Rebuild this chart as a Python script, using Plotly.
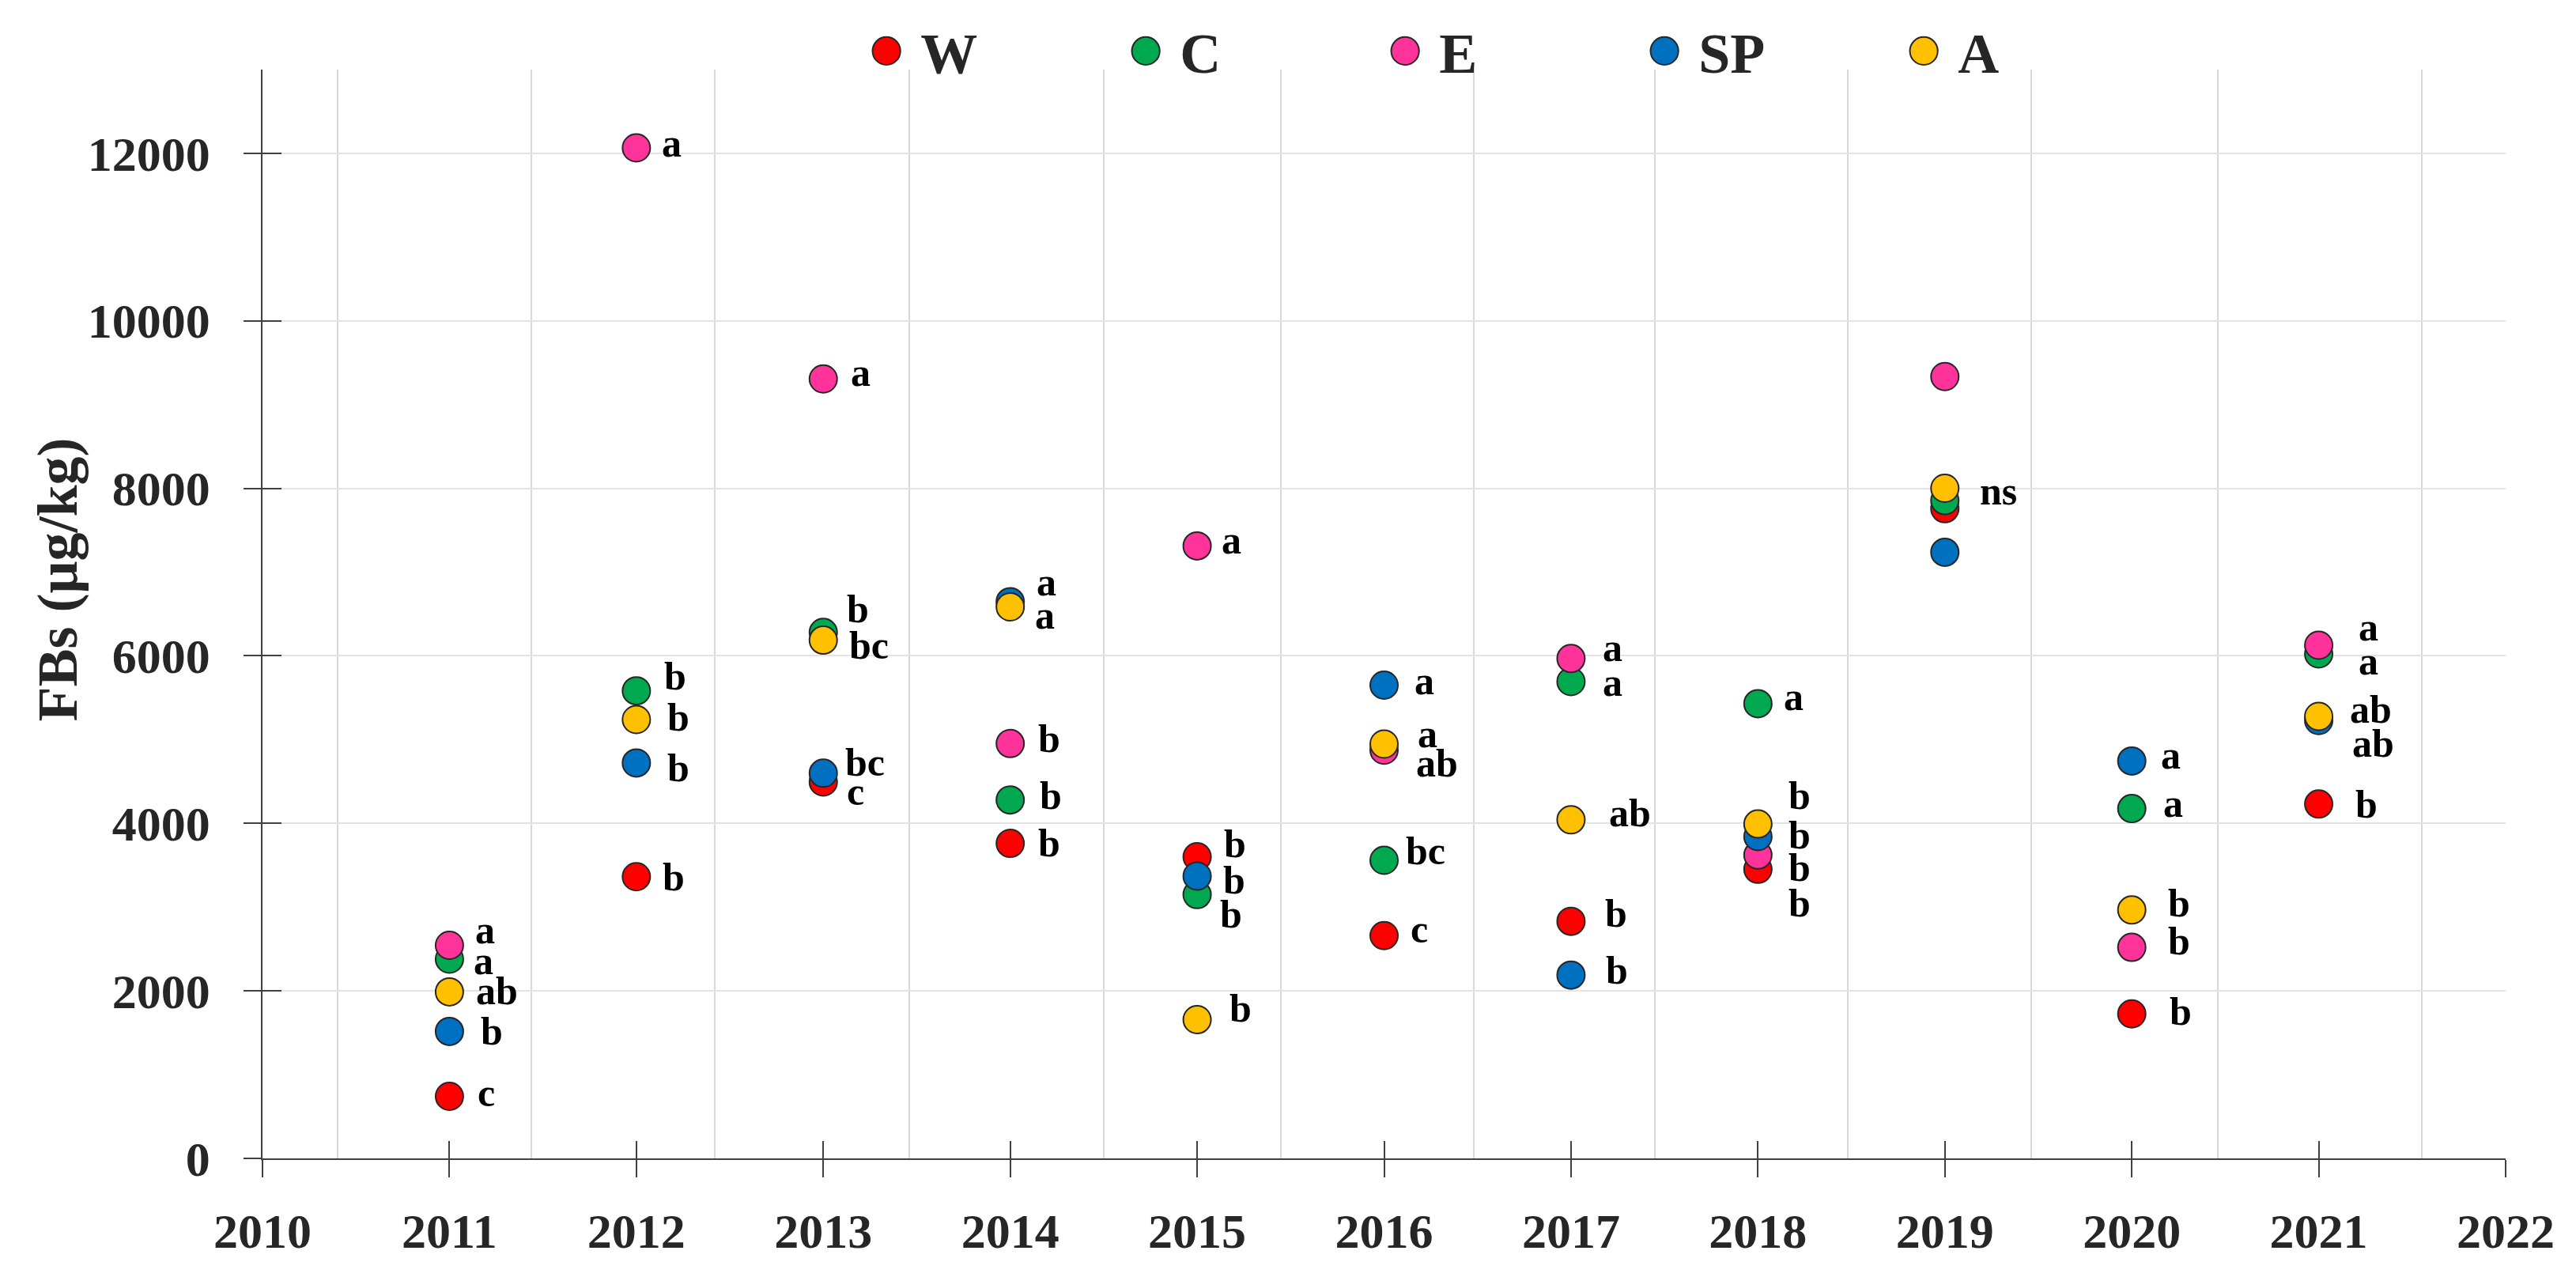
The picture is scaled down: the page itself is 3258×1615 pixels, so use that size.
import plotly.graph_objects as go

# ---------------- data ----------------
years = [2011, 2012, 2013, 2014, 2015, 2016, 2017, 2018, 2019, 2020, 2021]
series_names = ["W", "C", "E", "SP", "A"]
W = [741, 3363, 4495, 3761, 3602, 2660, 2831, 3452, 7757, 1725, 4231]
C = [2379, 5583, 6280, 4280, 3150, 3559, 5693, 5429, 7854, 4177, 6023]
E = [2544, 12065, 9306, 4953, 7313, 4874, 5968, 3622, 9335, 2520, 6127]
SP = [1516, 4721, 4599, 6647, 3370, 5650, 2189, 3842, 7237, 4745, 5228]
A = [1988, 5240, 6188, 6585, 1657, 4947, 4042, 3993, 8001, 2966, 5277]

W_lab = ["c", "b", "c", "b", "b", "c", "b", "b", "", "b", "b"]
C_lab = ["a", "b", "b", "b", "b", "bc", "a", "a", "", "a", "a"]
E_lab = ["a", "a", "a", "b", "a", "ab", "a", "b", "", "b", "a"]
SP_lab = ["b", "b", "bc", "a", "b", "a", "b", "b", "", "a", "ab"]
A_lab = ["ab", "b", "bc", "a", "b", "a", "ab", "b", "ns", "b", "ab"]

x_ticks = list(range(2010, 2023))
y_ticks = [0, 2000, 4000, 6000, 8000, 10000, 12000]
y_title = "FBs (μg/kg)"

# ---------------- style ----------------
colors = {"W": "#FF0000", "C": "#00A84F", "E": "#FF3399", "SP": "#0070C0", "A": "#FFC000"}
# label offsets in px (dx to the left edge of text, dy downwards)
W_off = [(34, -5), (31, 0), (28, 12), (33, -1), (32, -16), (31, -8), (41, -10), (37, 43), None, (46, -3), (44, 0)]
C_off = [(29, 2), (33, -19), (28, -30), (35, -6), (27, 25), (25, -12), (38, 1), (31, -9), None, (38, -7), (48, 9)]
E_off = [(31, -20), (30, -6), (33, -8), (33, -6), (29, -7), (38, 16), (38, -14), (37, 16), None, (44, -8), (48, -23)]
SP_off = [(38, 0), (37, 6), (26, -14), (31, -25), (31, 5), (36, -6), (42, -6), (37, -2), None, (35, -7), (40, 29)]
A_off = [(32, -1), (37, -3), (31, 6), (29, 10), (39, -14), (40, -13), (46, -9), (37, -36), (42, 3), (44, -9), (37, -9)]
# vertical gridline positions (layout)
grid_x = [2010.40, 2011.44, 2012.42, 2013.46, 2014.50, 2015.45, 2016.48, 2017.45, 2018.48, 2019.46, 2020.46, 2021.55]

FONT = "Liberation Serif"
TXT = "#262626"
AXC = "#404040"

values = {"W": W, "C": C, "E": E, "SP": SP, "A": A}
labels = {"W": W_lab, "C": C_lab, "E": E_lab, "SP": SP_lab, "A": A_lab}
offsets = {"W": W_off, "C": C_off, "E": E_off, "SP": SP_off, "A": A_off}

fig = go.Figure()
for name in series_names:
    fig.add_trace(go.Scatter(
        x=years, y=values[name], mode="markers", name=name,
        marker=dict(size=35, color=colors[name], line=dict(color="#262626", width=2)),
        hoverinfo="x+y+name",
    ))

# empty trace so the overlay axes (crossing ticks) are drawn
fig.add_trace(go.Scatter(x=[], y=[], xaxis="x2", yaxis="y2", showlegend=False, hoverinfo="skip"))

annotations = []
for name in series_names:
    for yr, v, lab, off in zip(years, values[name], labels[name], offsets[name]):
        if not lab or off is None:
            continue
        annotations.append(dict(
            x=yr, y=v, xref="x", yref="y", text=lab, showarrow=False,
            xanchor="left", yanchor="middle", xshift=off[0], yshift=-off[1],
            font=dict(family=FONT, size=50, color="#000000", weight="bold"),
        ))

# y-axis title
annotations.append(dict(
    x=-0.0913, y=0.532, xref="paper", yref="paper", text=y_title, showarrow=False,
    textangle=-90, xanchor="center", yanchor="middle",
    font=dict(family=FONT, size=72, color=TXT, weight="bold"),
))

fig.update_layout(
    width=3258, height=1615,
    margin=dict(l=332, r=89, t=88, b=150, autoexpand=False),
    paper_bgcolor="white", plot_bgcolor="white",
    showlegend=True,
    legend=dict(
        orientation="h", x=0.263, xanchor="left", y=1.017, yanchor="middle",
        font=dict(family=FONT, size=72, color=TXT, weight="bold"),
        bgcolor="rgba(0,0,0,0)", entrywidth=237, itemwidth=76,
    ),
    annotations=annotations,
    xaxis=dict(
        range=[2010, 2022], tickmode="array", tickvals=x_ticks,
        ticks="outside", ticklen=22, tickwidth=1.5, tickcolor=AXC,
        showline=True, linecolor=AXC, linewidth=1.5,
        showgrid=False, zeroline=False,
        tickfont=dict(family=FONT, size=62, color=TXT, weight="bold"),
        ticklabelstandoff=15,
        minor=dict(tickmode="array", tickvals=grid_x, showgrid=True,
                   gridcolor="#D9D9D9", gridwidth=2, ticks=""),
    ),
    yaxis=dict(
        range=[0, 13000], tickmode="array", tickvals=y_ticks, tickformat="d",
        ticks="outside", ticklen=22, tickwidth=1.5, tickcolor=AXC,
        showline=True, linecolor=AXC, linewidth=1.5,
        showgrid=True, gridcolor="#E3E3E3", gridwidth=1.5, zeroline=False,
        tickfont=dict(family=FONT, size=62, color=TXT, weight="bold"),
        ticklabelstandoff=30,
    ),
    xaxis2=dict(
        overlaying="x", anchor="y2", range=[2010, 2022], tickmode="array", tickvals=x_ticks,
        ticks="inside", ticklen=22, tickwidth=1.5, tickcolor=AXC,
        showticklabels=False, showgrid=False, showline=False, zeroline=False,
    ),
    yaxis2=dict(
        overlaying="y", anchor="x2", range=[0, 13000], tickmode="array", tickvals=y_ticks,
        ticks="inside", ticklen=24, tickwidth=1.5, tickcolor=AXC, side="left",
        showticklabels=False, showgrid=False, showline=False, zeroline=False,
    ),
)

post = """
document.body.style.margin = '0';
document.body.style.overflow = 'hidden';
var gd = document.getElementById('{plot_id}');
gd.querySelectorAll('.legend .legendpoints path.scatterpts').forEach(function(p){
  var t = p.getAttribute('transform') || '';
  p.setAttribute('transform', t + ' scale(2.2)');
  p.style.strokeWidth = '0.9px';
});
"""
fig.write_html("out.html", post_script=post, config={"displayModeBar": False})
